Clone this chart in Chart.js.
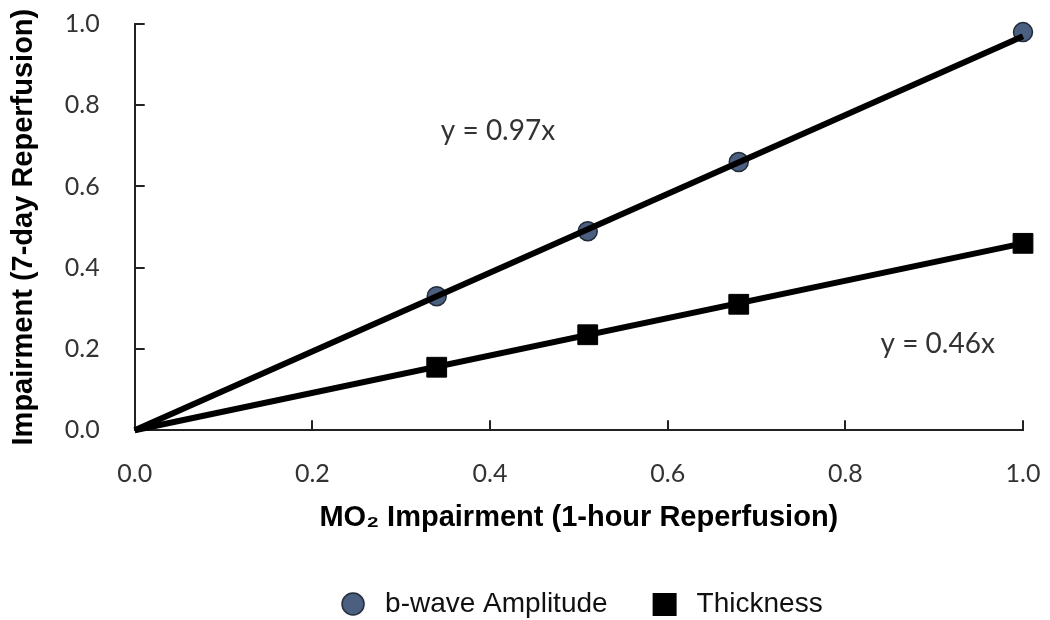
<!DOCTYPE html>
<html>
<head>
<meta charset="utf-8">
<script src="https://cdn.jsdelivr.net/npm/chart.js@4.4.1/dist/chart.umd.min.js"></script>
<style>
  html, body { margin: 0; padding: 0; background: #fff; }
  #wrap { width: 1050px; height: 620px; }
</style>
</head>
<body>
<div id="wrap"><canvas id="chart"></canvas></div>
<script>
  // values
  const mo2X = [0.34, 0.51, 0.68, 1.0];
  const bwaveY = [0.33, 0.49, 0.66, 0.98];
  const thicknessY = [0.155, 0.235, 0.31, 0.46];
  const seriesNames = ['b-wave Amplitude', 'Thickness'];
  const trendX = [0, 1];
  const trendSlopes = [0.97, 0.46];
  const trendLabels = ['y = 0.97x', 'y = 0.46x'];

  const circleFill = '#4b6080';
  const tickFont = { family: 'Lato', size: 25 };
  const titleFont = { family: 'Liberation Sans, Arial', size: 29, weight: 'bold' };

  const toPoints = (xs, ys) => xs.map((x, i) => ({ x: x, y: ys[i] }));

  // small canvases used as legend icons
  function legendIcon(kind) {
    const c = document.createElement('canvas');
    c.width = 26; c.height = 26;
    const g = c.getContext('2d');
    if (kind === 'circle') {
      g.beginPath();
      g.arc(13, 13, 11, 0, Math.PI * 2);
      g.fillStyle = circleFill;
      g.fill();
      g.lineWidth = 1.5;
      g.strokeStyle = '#222b38';
      g.stroke();
    } else {
      g.fillStyle = '#000';
      g.fillRect(1, 2, 24, 23);
    }
    return c;
  }
  const legendIcons = [legendIcon('circle'), legendIcon('rect')];

  // tick marks pointing into the plot, like the original
  const innerTicks = {
    id: 'innerTicks',
    beforeDatasetsDraw(chart) {
      const { ctx, scales: { x, y } } = chart;
      ctx.save();
      ctx.strokeStyle = '#222';
      ctx.lineWidth = 2;
      ctx.beginPath();
      x.ticks.forEach(t => {
        if (t.value === 0) return;
        const px = Math.round(x.getPixelForValue(t.value));
        ctx.moveTo(px, y.bottom);
        ctx.lineTo(px, y.bottom - 10);
      });
      y.ticks.forEach(t => {
        if (t.value === 0) return;
        const py = Math.round(y.getPixelForValue(t.value));
        ctx.moveTo(x.left, py);
        ctx.lineTo(x.left + 10, py);
      });
      ctx.stroke();
      ctx.restore();
    }
  };

  // fitted equations written next to each line
  const equationLabels = {
    id: 'equationLabels',
    afterDraw(chart) {
      const { ctx, scales: { x, y } } = chart;
      const spots = [[0.409, 0.736], [0.904, 0.212]];
      ctx.save();
      ctx.font = '28px Lato';
      ctx.fillStyle = '#333';
      ctx.textAlign = 'center';
      ctx.textBaseline = 'middle';
      trendLabels.forEach((txt, i) => {
        ctx.fillText(txt, x.getPixelForValue(spots[i][0]), y.getPixelForValue(spots[i][1]));
      });
      ctx.restore();
    }
  };

  new Chart(document.getElementById('chart'), {
    type: 'scatter',
    data: {
      datasets: [
        {
          label: 'trend b-wave',
          type: 'line',
          data: toPoints(trendX, trendX.map(v => v * trendSlopes[0])),
          borderColor: '#000',
          borderWidth: 6,
          pointRadius: 0,
          clip: false,
          order: 0
        },
        {
          label: 'trend thickness',
          type: 'line',
          data: toPoints(trendX, trendX.map(v => v * trendSlopes[1])),
          borderColor: '#000',
          borderWidth: 6,
          pointRadius: 0,
          clip: false,
          order: 0
        },
        {
          label: seriesNames[0],
          data: toPoints(mo2X, bwaveY),
          pointStyle: 'circle',
          pointRadius: 9.5,
          backgroundColor: circleFill,
          borderColor: '#222b38',
          borderWidth: 1.5,
          clip: false,
          order: 1
        },
        {
          label: seriesNames[1],
          data: toPoints(mo2X, thicknessY),
          pointStyle: 'rect',
          pointRadius: 14,
          backgroundColor: '#000',
          borderColor: '#000',
          borderWidth: 1,
          clip: false,
          order: 1
        }
      ]
    },
    options: {
      responsive: true,
      maintainAspectRatio: false,
      animation: false,
      layout: { padding: { top: 24, right: 27, left: 0, bottom: -8 } },
      plugins: {
        tooltip: { enabled: false },
        legend: {
          position: 'bottom',
          fullSize: false,
          labels: {
            usePointStyle: true,
            pointStyleWidth: 36,
            padding: 39,
            color: '#111',
            font: { family: 'Liberation Sans, Arial', size: 28 },
            filter: item => seriesNames.includes(item.text),
            generateLabels(chart) {
              const items = Chart.defaults.plugins.legend.labels.generateLabels(chart);
              items.forEach(it => {
                const k = seriesNames.indexOf(it.text);
                if (k >= 0) it.pointStyle = legendIcons[k];
              });
              return items;
            }
          }
        }
      },
      scales: {
        x: {
          type: 'linear',
          min: 0, max: 1,
          ticks: { stepSize: 0.2, padding: 0, color: '#333', font: tickFont, callback: v => v.toFixed(1) },
          grid: { display: true, drawOnChartArea: false, drawTicks: true, tickLength: 29, tickColor: 'rgba(0,0,0,0)' },
          border: { color: '#222', width: 2 },
          title: { display: true, text: 'MO₂ Impairment (1-hour Reperfusion)', color: '#000', font: titleFont, padding: { top: 11, bottom: 16 } }
        },
        y: {
          type: 'linear',
          min: 0, max: 1,
          ticks: { stepSize: 0.2, padding: 0, color: '#333', font: tickFont, callback: v => v.toFixed(1) },
          grid: { display: true, drawOnChartArea: false, drawTicks: true, tickLength: 35, tickColor: 'rgba(0,0,0,0)' },
          border: { color: '#222', width: 2 },
          title: { display: true, text: 'Impairment (7-day Reperfusion)', color: '#000', font: titleFont, padding: { top: 7, bottom: 23 } }
        }
      }
    },
    plugins: [innerTicks, equationLabels]
  });
</script>
</body>
</html>
